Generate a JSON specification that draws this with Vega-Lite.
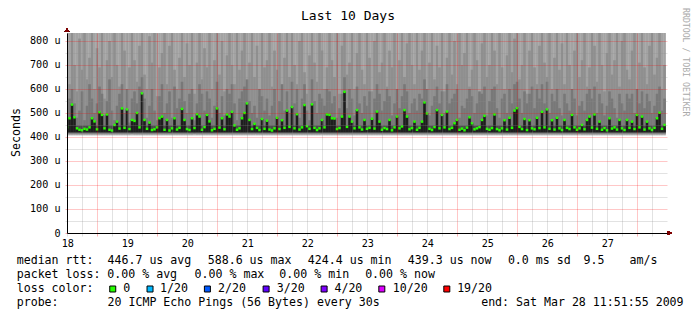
{
  "$schema": "https://vega.github.io/schema/vega-lite/v6.json",
  "width": 600,
  "height": 200,
  "autosize": {"type": "none"},
  "padding": {"left": 67, "top": 33, "right": 30, "bottom": 88},
  "background": "white",
  "config": {"view": {"stroke": null}, "font": "DejaVu Sans Mono"},
  "title": {"text": "Last 10 Days", "anchor": "middle", "frame": "group", "dx": -19, "dy": 13.5, "offset": -11.3, "baseline": "alphabetic", "font": "DejaVu Sans Mono", "fontSize": 13, "fontWeight": "normal", "color": "black"},
  "datasets": {
    "ping": [
      {"h":0,"m":440,"a":520,"b":760},{"h":1,"m":478,"a":560,"b":620},{"h":2,"m":535,"a":600,"b":840},{"h":3,"m":482,"a":540,"b":700},{"h":4,"m":436,"a":480,"b":590},{"h":5,"m":430,"a":510,"b":810},{"h":6,"m":428,"a":590,"b":680},{"h":7,"m":434,"a":470,"b":840},{"h":8,"m":431,"a":530,"b":640},{"h":9,"m":440,"a":620,"b":730},
      {"h":10,"m":478,"a":560,"b":840},{"h":11,"m":465,"a":500,"b":600},{"h":12,"m":432,"a":540,"b":770},{"h":13,"m":503,"a":610,"b":690},{"h":14,"m":492,"a":580,"b":840},{"h":15,"m":436,"a":490,"b":560},{"h":16,"m":494,"a":550,"b":720},{"h":17,"m":430,"a":640,"b":800},{"h":18,"m":427,"a":510,"b":650},{"h":19,"m":450,"a":470,"b":840},
      {"h":20,"m":464,"a":530,"b":700},{"h":21,"m":435,"a":580,"b":610},{"h":22,"m":519,"a":620,"b":840},{"h":23,"m":438,"a":500,"b":760},{"h":24,"m":515,"a":600,"b":580},{"h":25,"m":433,"a":460,"b":690},{"h":26,"m":471,"a":560,"b":840},{"h":27,"m":467,"a":590,"b":720},{"h":28,"m":500,"a":540,"b":630},{"h":29,"m":440,"a":610,"b":780},
      {"h":30,"m":582,"a":650,"b":840},{"h":31,"m":471,"a":560,"b":660},{"h":32,"m":434,"a":480,"b":600},{"h":33,"m":460,"a":530,"b":820},{"h":34,"m":429,"a":600,"b":710},{"h":35,"m":432,"a":510,"b":840},{"h":36,"m":440,"a":470,"b":570},{"h":37,"m":478,"a":570,"b":690},{"h":38,"m":485,"a":620,"b":750},{"h":39,"m":430,"a":500,"b":840},
      {"h":40,"m":471,"a":540,"b":620},{"h":41,"m":427,"a":590,"b":780},{"h":42,"m":436,"a":480,"b":840},{"h":43,"m":478,"a":610,"b":680},{"h":44,"m":431,"a":520,"b":600},{"h":45,"m":438,"a":560,"b":730},{"h":46,"m":517,"a":630,"b":840},{"h":47,"m":471,"a":550,"b":650},{"h":48,"m":433,"a":500,"b":790},{"h":49,"m":429,"a":580,"b":700},
      {"h":50,"m":478,"a":600,"b":840},{"h":51,"m":437,"a":470,"b":580},{"h":52,"m":495,"a":540,"b":710},{"h":53,"m":485,"a":620,"b":840},{"h":54,"m":430,"a":580,"b":640},{"h":55,"m":441,"a":510,"b":770},{"h":56,"m":492,"a":590,"b":690},{"h":57,"m":465,"a":560,"b":840},{"h":58,"m":428,"a":480,"b":600},{"h":59,"m":434,"a":530,"b":720},
      {"h":60,"m":519,"a":630,"b":840},{"h":61,"m":439,"a":500,"b":660},{"h":62,"m":478,"a":570,"b":800},{"h":63,"m":432,"a":490,"b":590},{"h":64,"m":494,"a":600,"b":740},{"h":65,"m":485,"a":580,"b":840},{"h":66,"m":505,"a":620,"b":700},{"h":67,"m":448,"a":540,"b":620},{"h":68,"m":430,"a":470,"b":840},{"h":69,"m":436,"a":560,"b":680},
      {"h":70,"m":478,"a":590,"b":760},{"h":71,"m":500,"a":610,"b":840},{"h":72,"m":540,"a":640,"b":600},{"h":73,"m":471,"a":550,"b":710},{"h":74,"m":433,"a":500,"b":840},{"h":75,"m":455,"a":530,"b":650},{"h":76,"m":438,"a":480,"b":780},{"h":77,"m":429,"a":600,"b":570},{"h":78,"m":475,"a":570,"b":840},{"h":79,"m":434,"a":510,"b":690},
      {"h":80,"m":468,"a":560,"b":720},{"h":81,"m":431,"a":490,"b":840},{"h":82,"m":427,"a":530,"b":610},{"h":83,"m":436,"a":600,"b":760},{"h":84,"m":480,"a":480,"b":680},{"h":85,"m":433,"a":550,"b":840},{"h":86,"m":470,"a":620,"b":590},{"h":87,"m":438,"a":510,"b":730},{"h":88,"m":510,"a":590,"b":840},{"h":89,"m":442,"a":500,"b":650},
      {"h":90,"m":525,"a":630,"b":840},{"h":91,"m":436,"a":540,"b":700},{"h":92,"m":495,"a":600,"b":620},{"h":93,"m":431,"a":480,"b":800},{"h":94,"m":440,"a":560,"b":840},{"h":95,"m":533,"a":620,"b":670},{"h":96,"m":445,"a":510,"b":580},{"h":97,"m":434,"a":470,"b":740},{"h":98,"m":536,"a":640,"b":840},{"h":99,"m":438,"a":550,"b":710},
      {"h":100,"m":429,"a":500,"b":630},{"h":101,"m":436,"a":580,"b":840},{"h":102,"m":471,"a":560,"b":760},{"h":103,"m":440,"a":530,"b":600},{"h":104,"m":494,"a":600,"b":690},{"h":105,"m":492,"a":590,"b":840},{"h":106,"m":478,"a":540,"b":720},{"h":107,"m":477,"a":570,"b":650},{"h":108,"m":433,"a":480,"b":840},{"h":109,"m":437,"a":520,"b":580},
      {"h":110,"m":485,"a":580,"b":780},{"h":111,"m":588,"a":650,"b":840},{"h":112,"m":442,"a":520,"b":660},{"h":113,"m":485,"a":600,"b":710},{"h":114,"m":464,"a":560,"b":840},{"h":115,"m":436,"a":490,"b":600},{"h":116,"m":512,"a":610,"b":750},{"h":117,"m":440,"a":540,"b":840},{"h":118,"m":431,"a":500,"b":680},{"h":119,"m":471,"a":570,"b":620},
      {"h":120,"m":434,"a":530,"b":840},{"h":121,"m":438,"a":590,"b":730},{"h":122,"m":476,"a":480,"b":590},{"h":123,"m":435,"a":560,"b":800},{"h":124,"m":506,"a":620,"b":840},{"h":125,"m":464,"a":580,"b":670},{"h":126,"m":430,"a":510,"b":710},{"h":127,"m":437,"a":550,"b":840},{"h":128,"m":433,"a":600,"b":610},{"h":129,"m":471,"a":570,"b":760},
      {"h":130,"m":428,"a":490,"b":690},{"h":131,"m":440,"a":540,"b":840},{"h":132,"m":485,"a":600,"b":580},{"h":133,"m":436,"a":520,"b":720},{"h":134,"m":444,"a":570,"b":840},{"h":135,"m":512,"a":620,"b":650},{"h":136,"m":485,"a":590,"b":790},{"h":137,"m":432,"a":500,"b":840},{"h":138,"m":437,"a":540,"b":700},{"h":139,"m":464,"a":560,"b":620},
      {"h":140,"m":430,"a":510,"b":840},{"h":141,"m":438,"a":580,"b":680},{"h":142,"m":464,"a":560,"b":760},{"h":143,"m":544,"a":640,"b":840},{"h":144,"m":498,"a":600,"b":600},{"h":145,"m":434,"a":490,"b":710},{"h":146,"m":429,"a":530,"b":840},{"h":147,"m":441,"a":570,"b":640},{"h":148,"m":512,"a":610,"b":780},{"h":149,"m":436,"a":540,"b":690},
      {"h":150,"m":492,"a":590,"b":840},{"h":151,"m":440,"a":500,"b":590},{"h":152,"m":506,"a":620,"b":730},{"h":153,"m":433,"a":540,"b":840},{"h":154,"m":438,"a":560,"b":660},{"h":155,"m":457,"a":580,"b":800},{"h":156,"m":471,"a":600,"b":620},{"h":157,"m":430,"a":480,"b":840},{"h":158,"m":435,"a":530,"b":700},{"h":159,"m":428,"a":520,"b":750},
      {"h":160,"m":439,"a":560,"b":840},{"h":161,"m":482,"a":600,"b":610},{"h":162,"m":457,"a":570,"b":680},{"h":163,"m":432,"a":500,"b":840},{"h":164,"m":436,"a":540,"b":720},{"h":165,"m":441,"a":590,"b":580},{"h":166,"m":471,"a":580,"b":790},{"h":167,"m":488,"a":610,"b":840},{"h":168,"m":434,"a":490,"b":650},{"h":169,"m":430,"a":550,"b":700},
      {"h":170,"m":437,"a":600,"b":840},{"h":171,"m":494,"a":610,"b":760},{"h":172,"m":433,"a":520,"b":620},{"h":173,"m":428,"a":480,"b":840},{"h":174,"m":436,"a":560,"b":690},{"h":175,"m":470,"a":580,"b":600},{"h":176,"m":431,"a":500,"b":740},{"h":177,"m":480,"a":600,"b":840},{"h":178,"m":438,"a":540,"b":670},{"h":179,"m":510,"a":620,"b":810},
      {"h":180,"m":520,"a":630,"b":840},{"h":181,"m":442,"a":560,"b":640},{"h":182,"m":433,"a":500,"b":700},{"h":183,"m":475,"a":590,"b":840},{"h":184,"m":429,"a":540,"b":580},{"h":185,"m":470,"a":580,"b":760},{"h":186,"m":436,"a":610,"b":840},{"h":187,"m":432,"a":520,"b":690},{"h":188,"m":480,"a":600,"b":620},{"h":189,"m":437,"a":560,"b":780},
      {"h":190,"m":505,"a":620,"b":840},{"h":191,"m":440,"a":540,"b":710},{"h":192,"m":515,"a":630,"b":650},{"h":193,"m":434,"a":500,"b":840},{"h":194,"m":470,"a":580,"b":600},{"h":195,"m":431,"a":550,"b":730},{"h":196,"m":480,"a":600,"b":840},{"h":197,"m":436,"a":520,"b":680},{"h":198,"m":429,"a":490,"b":790},{"h":199,"m":471,"a":580,"b":620},
      {"h":200,"m":438,"a":540,"b":840},{"h":201,"m":433,"a":510,"b":700},{"h":202,"m":492,"a":600,"b":580},{"h":203,"m":440,"a":560,"b":760},{"h":204,"m":430,"a":490,"b":840},{"h":205,"m":436,"a":530,"b":650},{"h":206,"m":450,"a":550,"b":720},{"h":207,"m":432,"a":510,"b":840},{"h":208,"m":471,"a":580,"b":610},{"h":209,"m":485,"a":600,"b":690},
      {"h":210,"m":439,"a":560,"b":840},{"h":211,"m":494,"a":610,"b":780},{"h":212,"m":434,"a":500,"b":630},{"h":213,"m":464,"a":580,"b":840},{"h":214,"m":430,"a":540,"b":700},{"h":215,"m":437,"a":490,"b":590},{"h":216,"m":428,"a":530,"b":750},{"h":217,"m":478,"a":590,"b":840},{"h":218,"m":435,"a":560,"b":660},{"h":219,"m":440,"a":520,"b":720},
      {"h":220,"m":431,"a":480,"b":840},{"h":221,"m":471,"a":580,"b":610},{"h":222,"m":436,"a":540,"b":800},{"h":223,"m":429,"a":510,"b":840},{"h":224,"m":471,"a":580,"b":680},{"h":225,"m":438,"a":560,"b":640},{"h":226,"m":464,"a":580,"b":760},{"h":227,"m":433,"a":500,"b":840},{"h":228,"m":492,"a":600,"b":590},{"h":229,"m":440,"a":540,"b":710},
      {"h":230,"m":485,"a":590,"b":840},{"h":231,"m":431,"a":520,"b":690},{"h":232,"m":464,"a":580,"b":620},{"h":233,"m":436,"a":550,"b":780},{"h":234,"m":429,"a":500,"b":840},{"h":235,"m":438,"a":530,"b":660},{"h":236,"m":478,"a":580,"b":730},{"h":237,"m":501,"a":610,"b":840},{"h":238,"m":434,"a":510,"b":600},{"h":239,"m":450,"a":560,"b":700}
    ],
    "legend": [
      {"r":0,"c":0,"t":"median rtt:"},{"r":0,"c":13.01,"t":"446.7 us avg"},{"r":0,"c":27.37,"t":"588.6 us max"},{"r":0,"c":41.7,"t":"424.4 us min"},{"r":0,"c":56.03,"t":"439.3 us now"},{"r":0,"c":70.37,"t":"0.0 ms sd"},{"r":0,"c":81.2,"t":"9.5"},{"r":0,"c":87.79,"t":"am/s"},
      {"r":1,"c":0,"t":"packet loss:"},{"r":1,"c":12.98,"t":"0.00 % avg"},{"r":1,"c":25.48,"t":"0.00 % max"},{"r":1,"c":37.63,"t":"0.00 % min"},{"r":1,"c":49.92,"t":"0.00 % now"},
      {"r":2,"c":0,"t":"loss color:"},{"r":2,"c":15.28,"t":"0"},{"r":2,"c":20.54,"t":"1/20"},{"r":2,"c":28.85,"t":"2/20"},{"r":2,"c":37.26,"t":"3/20"},{"r":2,"c":45.52,"t":"4/20"},{"r":2,"c":53.89,"t":"10/20"},{"r":2,"c":63.1,"t":"19/20"},
      {"r":3,"c":0,"t":"probe:"},{"r":3,"c":13.01,"t":"20 ICMP Echo Pings (56 Bytes) every 30s"},{"r":3,"c":66.54,"t":"end: Sat Mar 28 11:51:55 2009"}
    ],
    "boxes": [
      {"r":2,"c":13.76,"k":"0"},{"r":2,"c":19.1,"k":"1/20"},{"r":2,"c":27.32,"k":"2/20"},{"r":2,"c":35.73,"k":"3/20"},{"r":2,"c":44.04,"k":"4/20"},{"r":2,"c":52.31,"k":"10/20"},{"r":2,"c":61.62,"k":"19/20"}
    ],
    "mark": [
      {"t":"RRDTOOL / TOBI OETIKER","c":95.46,"r":-18.07}
    ]
  },
  "layer": [
    {
      "data": {"name": "ping"},
      "encoding": {
        "x": {
          "field": "h", "type": "quantitative",
          "scale": {"domain": [0, 240], "nice": false, "zero": false, "padding": 0},
          "axis": {
            "values": [0.135, 6.135, 12.135, 18.135, 24.135, 30.135, 36.135, 42.135, 48.135, 54.135, 60.135, 66.135, 72.135, 78.135, 84.135, 90.135, 96.135, 102.135, 108.135, 114.135, 120.135, 126.135, 132.135, 138.135, 144.135, 150.135, 156.135, 162.135, 168.135, 174.135, 180.135, 186.135, 192.135, 198.135, 204.135, 210.135, 216.135, 222.135, 228.135, 234.135],
            "labelExpr": "abs((datum.value - 0.135) / 24 - round((datum.value - 0.135) / 24)) < 0.01 ? '' + (18 + round((datum.value - 0.135) / 24)) : ''",
            "title": null,
            "grid": true,
            "gridColor": {"condition": {"test": "abs((datum.value - 12.135) / 24 - round((datum.value - 12.135) / 24)) < 0.01", "value": "rgba(255,0,0,0.22)"}, "value": "rgba(140,140,140,0.25)"},
            "tickColor": {"condition": {"test": "abs((datum.value - 12.135) / 24 - round((datum.value - 12.135) / 24)) < 0.01", "value": "rgba(255,0,0,0.3)"}, "value": "rgba(140,140,140,0.28)"},
            "tickSize": 3,
            "domainColor": "black",
            "labelFont": "DejaVu Sans Mono",
            "labelFontSize": 10.15,
            "labelColor": "black",
            "labelPadding": 2,
            "labelAngle": 0,
            "labelFlush": false,
            "labelOverlap": false,
            "zindex": 1
          }
        },
        "y": {
          "field": "m", "type": "quantitative",
          "scale": {"domain": [0, 833.3], "nice": false, "zero": true},
          "axis": {
            "values": [0, 50, 100, 150, 200, 250, 300, 350, 400, 450, 500, 550, 600, 650, 700, 750, 800],
            "labelExpr": "datum.value == 0 ? '0' : (datum.value % 100 == 0 ? datum.value + ' u' : '')",
            "title": "Seconds",
            "titleFont": "DejaVu Sans Mono",
            "titleFontSize": 11.6,
            "titleFontWeight": "normal",
            "titleColor": "black",
            "titleX": -47.7,
            "titleY": 99,
            "titleAngle": 270,
            "titleAlign": "center",
            "titleBaseline": "alphabetic",
            "grid": true,
            "gridColor": {"condition": {"test": "datum.value % 100 == 0", "value": "rgba(255,0,0,0.22)"}, "value": "rgba(140,140,140,0.25)"},
            "tickColor": {"condition": {"test": "datum.value % 100 == 0", "value": "rgba(255,0,0,0.3)"}, "value": "rgba(140,140,140,0.28)"},
            "tickSize": 2,
            "labelPadding": 5,
            "labelFont": "DejaVu Sans Mono",
            "labelFontSize": 10.15,
            "labelColor": "black",
            "domainColor": "black",
            "labelFlush": false,
            "labelOverlap": false,
            "zindex": 1
          }
        }
      },
      "layer": [
        {
          "mark": {"type": "bar", "size": 2.6, "color": "#d6d6d6", "clip": true},
          "encoding": {"y": {"datum": 405, "type": "quantitative"}, "y2": {"datum": 840}}
        },
        {
          "mark": {"type": "bar", "size": 2.6, "color": "#a3a3a3", "clip": true},
          "encoding": {"y": {"datum": 409, "type": "quantitative"}, "y2": {"datum": 840}}
        },
        {
          "mark": {"type": "bar", "size": 2.6, "color": "#8f8f8f", "clip": true},
          "encoding": {"y": {"field": "b", "type": "quantitative"}, "y2": {"datum": 412}}
        },
        {
          "mark": {"type": "bar", "size": 2.6, "color": "#787878", "clip": true},
          "encoding": {"y": {"field": "a", "type": "quantitative"}, "y2": {"datum": 415}}
        },
        {
          "mark": {"type": "bar", "size": 2.6, "color": "#4c4c4c", "clip": true},
          "encoding": {"y": {"datum": 418, "type": "quantitative"}, "y2": {"datum": 448}}
        },
        {
          "mark": {"type": "bar", "size": 2.6, "color": "#1e1e1e", "clip": true},
          "encoding": {"y2": {"datum": 420}}
        },
        {
          "mark": {"type": "square", "size": 6, "color": "#26ff00", "opacity": 1, "clip": true}
        },
        {
          "mark": {"type": "point", "shape": "triangle-right", "filled": true, "color": "#7f0000", "size": 18, "opacity": 1},
          "encoding": {"x": {"datum": 241, "type": "quantitative"}, "y": {"datum": 0, "type": "quantitative"}}
        },
        {
          "mark": {"type": "point", "shape": "triangle-up", "filled": true, "color": "#7f0000", "size": 18, "opacity": 1},
          "encoding": {"x": {"datum": 0, "type": "quantitative"}, "y": {"datum": 845, "type": "quantitative"}}
        }
      ]
    },
    {
      "encoding": {
        "x": {"field": "c", "type": "quantitative", "scale": {"domain": [0, 90], "range": [-50.3, 577.9], "nice": false, "zero": false}, "axis": null},
        "y": {"field": "r", "type": "quantitative", "scale": {"domain": [0, 3], "range": [228, 270], "nice": false, "zero": false}, "axis": null}
      },
      "layer": [
        {
          "data": {"name": "legend"},
          "mark": {"type": "text", "align": "left", "baseline": "middle", "font": "DejaVu Sans Mono", "fontSize": 11.6, "color": "black", "clip": false},
          "encoding": {"text": {"field": "t"}}
        },
        {
          "data": {"name": "boxes"},
          "mark": {"type": "square", "size": 36, "stroke": "black", "strokeWidth": 1, "opacity": 1},
          "encoding": {
            "fill": {"field": "k", "type": "nominal", "scale": {"domain": ["0", "1/20", "2/20", "3/20", "4/20", "10/20", "19/20"], "range": ["#26ff00", "#00b8ff", "#0059ff", "#5e00ff", "#7e00ff", "#dd00ff", "#ff0000"]}, "legend": null}
          }
        },
        {
          "data": {"name": "mark"},
          "mark": {"type": "text", "angle": 90, "align": "left", "baseline": "alphabetic", "font": "DejaVu Sans Mono", "fontSize": 8.2, "color": "#aaaaaa"},
          "encoding": {"text": {"field": "t"}}
        }
      ]
    }
  ],
  "resolve": {"scale": {"x": "independent", "y": "independent"}, "axis": {"x": "independent", "y": "independent"}}
}
